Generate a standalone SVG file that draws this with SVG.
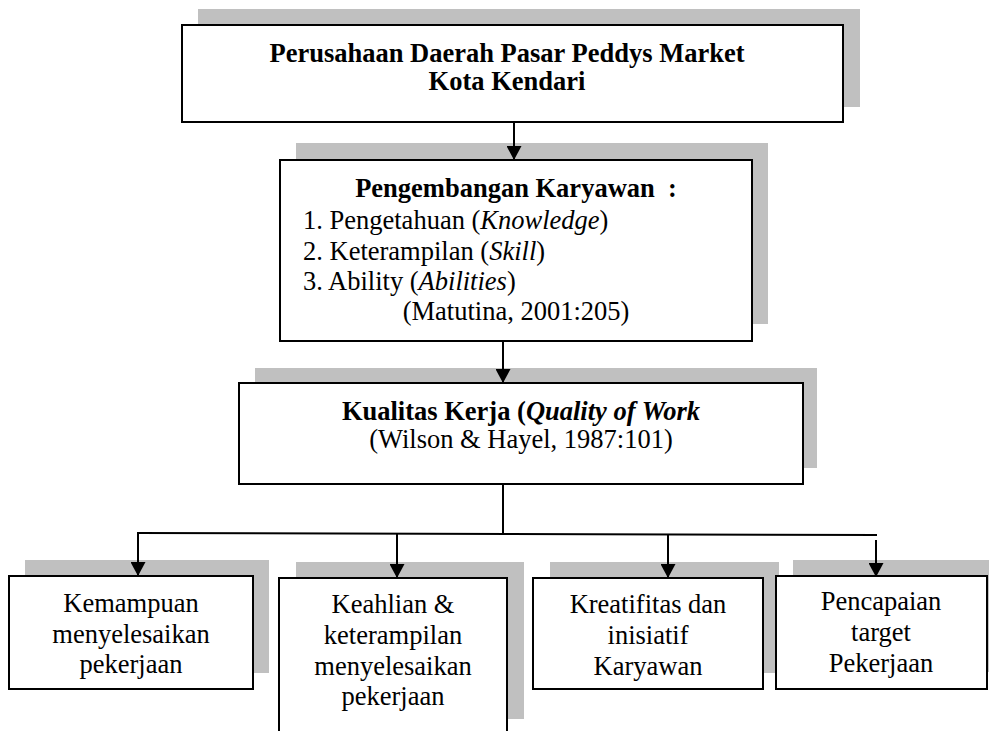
<svg xmlns="http://www.w3.org/2000/svg" width="989" height="731" viewBox="0 0 989 731">
<style>
  .shadow { fill: #c0c0c0; stroke: none; }
  .box { fill: #ffffff; stroke: #000000; stroke-width: 2; }
  .t { font-family: "Liberation Serif", "Times New Roman", serif; font-size: 26.5px; fill: #000000; }
  .b { font-weight: bold; }
  .c { text-anchor: middle; }
  .conn { stroke: #000000; stroke-width: 2; fill: none; }
</style>
<defs>
  <marker id="arrow" markerUnits="userSpaceOnUse" markerWidth="14" markerHeight="15" refX="14" refY="7.5" orient="auto" viewBox="0 0 14 15">
    <path d="M0,0 L14,7.5 L0,15 z" fill="#000000"/>
  </marker>
</defs>
<rect width="989" height="731" fill="#ffffff"/>

<g id="node-perusahaan">
  <rect class="shadow" x="198" y="9" width="662" height="98"/>
  <rect class="box" x="182" y="25" width="661" height="97"/>
  <text class="t b c" x="507" y="62">Perusahaan Daerah Pasar Peddys Market</text>
  <text class="t b c" x="507" y="90">Kota Kendari</text>
</g>

<g id="node-pengembangan">
  <rect class="shadow" x="296" y="143" width="472" height="181"/>
  <rect class="box" x="280" y="160" width="472" height="181"/>
  <text class="t b c" x="516" y="197" xml:space="preserve">Pengembangan Karyawan  :</text>
  <text class="t" x="303" y="229">1. Pengetahuan (<tspan font-style="italic">Knowledge</tspan>)</text>
  <text class="t" x="303" y="260">2. Keterampilan (<tspan font-style="italic">Skill</tspan>)</text>
  <text class="t" x="303" y="290">3. Ability (<tspan font-style="italic">Abilities</tspan>)</text>
  <text class="t c" x="516" y="320">(Matutina, 2001:205)</text>
</g>

<g id="node-kualitas">
  <rect class="shadow" x="255" y="368" width="562" height="100"/>
  <rect class="box" x="239" y="383" width="564" height="101"/>
  <text class="t b c" x="521" y="420">Kualitas Kerja (<tspan font-style="italic">Quality of Work</tspan></text>
  <text class="t c" x="521" y="448">(Wilson &amp; Hayel, 1987:101)</text>
</g>

<g id="node-kemampuan">
  <rect class="shadow" x="25" y="560" width="244" height="113"/>
  <rect class="box" x="9" y="576" width="244" height="113"/>
  <text class="t c" x="131" y="612">Kemampuan</text>
  <text class="t c" x="131" y="643">menyelesaikan</text>
  <text class="t c" x="131" y="673">pekerjaan</text>
</g>

<g id="node-keahlian">
  <rect class="shadow" x="296" y="562" width="228" height="157"/>
  <rect class="box" x="279" y="578" width="228" height="170"/>
  <text class="t c" x="393" y="613">Keahlian &amp;</text>
  <text class="t c" x="393" y="644">keterampilan</text>
  <text class="t c" x="393" y="675">menyelesaikan</text>
  <text class="t c" x="393" y="705">pekerjaan</text>
</g>

<g id="node-kreatifitas">
  <rect class="shadow" x="550" y="562" width="229" height="111"/>
  <rect class="box" x="533" y="578" width="230" height="111"/>
  <text class="t c" x="648" y="613">Kreatifitas dan</text>
  <text class="t c" x="648" y="644">inisiatif</text>
  <text class="t c" x="648" y="675">Karyawan</text>
</g>

<g id="node-pencapaian">
  <rect class="shadow" x="793" y="560" width="200" height="112"/>
  <rect class="box" x="776" y="576" width="211" height="113"/>
  <text class="t c" x="881" y="610">Pencapaian</text>
  <text class="t c" x="881" y="641">target</text>
  <text class="t c" x="881" y="672">Pekerjaan</text>
</g>

<g id="connectors">
  <line class="conn" x1="514" y1="123" x2="514" y2="160" marker-end="url(#arrow)"/>
  <line class="conn" x1="503" y1="342" x2="503" y2="383" marker-end="url(#arrow)"/>
  <line class="conn" x1="503" y1="485" x2="503" y2="534"/>
  <line class="conn" x1="137" y1="533" x2="877" y2="535"/>
  <line class="conn" x1="138" y1="533" x2="138" y2="576" marker-end="url(#arrow)"/>
  <line class="conn" x1="397" y1="534" x2="397" y2="578" marker-end="url(#arrow)"/>
  <line class="conn" x1="668" y1="535" x2="668" y2="578" marker-end="url(#arrow)"/>
  <line class="conn" x1="876" y1="540" x2="876" y2="577" marker-end="url(#arrow)"/>
</g>
</svg>
